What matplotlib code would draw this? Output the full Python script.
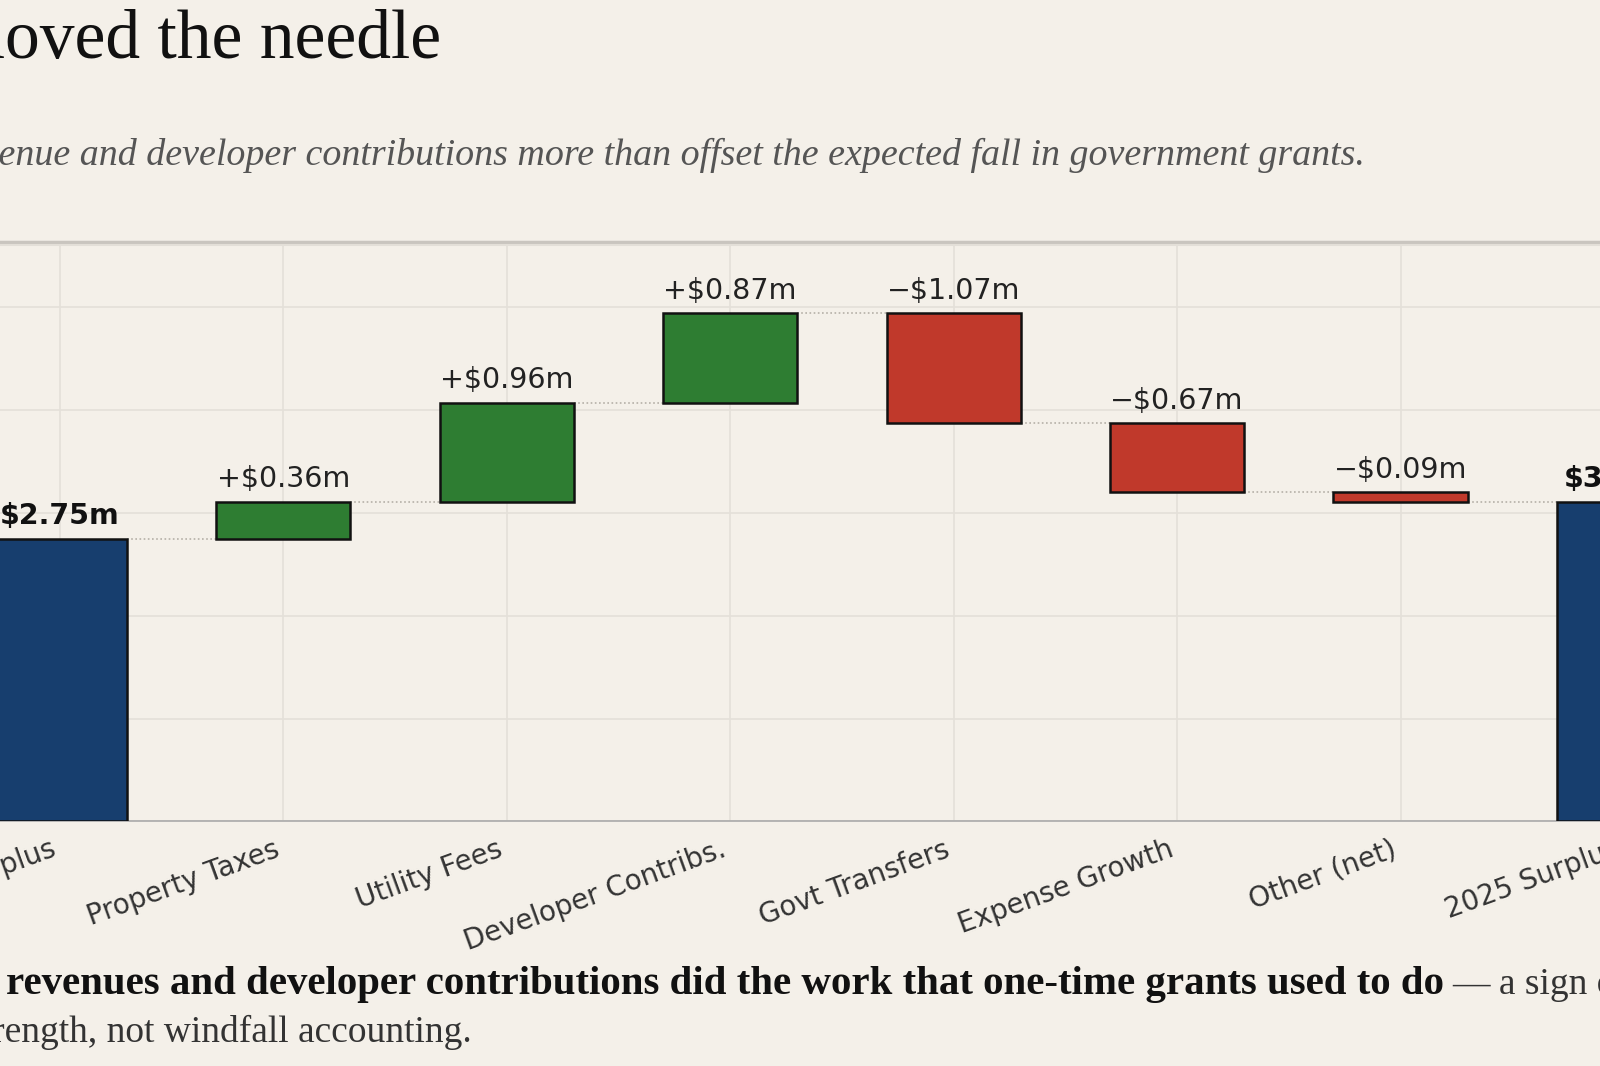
import numpy as np
import matplotlib
matplotlib.use("Agg")
import matplotlib.pyplot as plt
from matplotlib.lines import Line2D

# waterfall data ($m)
categories = ["2024 Surplus", "Property Taxes", "Utility Fees", "Developer Contribs.",
              "Govt Transfers", "Expense Growth", "Other (net)", "2025 Surplus"]
start_value = 2.75
changes = [0.36, 0.96, 0.87, -1.07, -0.67, -0.09]

BG = "#f4f0e9"
NAVY = "#173e6e"
GREEN = "#2e7d32"
RED = "#c0392b"

end_value = start_value + sum(changes)

# layout measured on a 1568 x 1045 view of the reference
VW, VH = 1568.0, 1044.7
def fx(v):
    return v / VW
def fy(v):
    return 1 - v / VH

fig = plt.figure(figsize=(16, 10.66), dpi=100, facecolor=BG)

# axes deliberately wider than the figure (cropped view)
unit_x = 219.0
unit_y = 100.8
xlo, xhi = -0.6, 7.6
ylo, yhi = 0.0, (805 - 237) / unit_y
ax = fig.add_axes([fx(58.5 + xlo * unit_x), fy(805), (xhi - xlo) * unit_x / VW,
                   (805 - 237) / VH])
ax.set_facecolor(BG)
ax.set_xlim(xlo, xhi)
ax.set_ylim(ylo, yhi)

x = np.arange(len(categories))
w = 0.6

bottoms = [0]
heights = [start_value]
colors = [NAVY]
levels = [start_value]
cum = start_value
for c in changes:
    bottoms.append(min(cum, cum + c))
    heights.append(abs(c))
    colors.append(GREEN if c > 0 else RED)
    cum += c
    levels.append(cum)
bottoms.append(0)
heights.append(end_value)
colors.append(NAVY)

ax.bar(x, heights, bottom=bottoms, width=w, color=colors, edgecolor="#111111",
       linewidth=1.8, zorder=3)

# connectors
for i in range(len(categories) - 1):
    ax.plot([x[i] + w / 2, x[i + 1] - w / 2], [levels[i], levels[i]],
            color="#b5b0a8", linestyle=(0, (1, 1.5)), linewidth=1.2, zorder=2)

# value labels
def fmt(v, signed):
    if not signed:
        return f"${v:.2f}m"
    return ("+" if v > 0 else "\u2212") + f"${abs(v):.2f}m"

LBL = 20.5
ax.annotate(fmt(start_value, False), (x[0], start_value), xytext=(0, 6),
            textcoords="offset points", ha="center", va="bottom",
            fontsize=LBL, fontweight="bold", color="#111111")
for i, c in enumerate(changes, start=1):
    top = bottoms[i] + heights[i]
    ax.annotate(fmt(c, True), (x[i], top), xytext=(0, 6),
                textcoords="offset points", ha="center", va="bottom",
                fontsize=LBL, color="#222222")
ax.annotate(fmt(end_value, False), (x[-1], end_value), xytext=(0, 6),
            textcoords="offset points", ha="center", va="bottom",
            fontsize=LBL, fontweight="bold", color="#111111")

ax.set_xticks(x)
ax.set_xticklabels(categories, rotation=20, ha="right", fontsize=20, color="#333333")
ax.set_yticks(np.arange(0, 6))
ax.tick_params(length=0, pad=10)
ax.set_yticklabels([])
ax.grid(True, color="#e4e0d9", linewidth=1.2, zorder=0)
ax.set_axisbelow(True)
for s in ["top", "right", "left"]:
    ax.spines[s].set_visible(False)
ax.spines["bottom"].set_color("#aaaaaa")
ax.spines["bottom"].set_linewidth(1.2)

# header rule
fig.add_artist(Line2D([0, 1], [fy(237)] * 2, color="#c9c5bf", linewidth=2.5))
fig.add_artist(Line2D([0, 1], [fy(240)] * 2, color="#e3dfd8", linewidth=1.5))

# title and subtitle (cropped on the left)
fig.text(fx(432), fy(40), "What moved the needle", ha="right", va="center",
         fontsize=50, family="Liberation Serif", color="#111111")
fig.text(fx(1338), fy(152),
         "Recurring tax revenue and developer contributions more than offset the expected fall in government grants.",
         ha="right", va="center", fontsize=27.4, family="Liberation Serif",
         style="italic", color="#555555")

# footnote
fig.text(fx(1415), fy(965),
         "Recurring revenues and developer contributions did the work that one-time grants used to do",
         ha="right", va="center", fontsize=29.4, family="Liberation Serif",
         fontweight="bold", color="#111111")
fig.text(fx(1423), fy(965), "\u2014 a sign of structural strength,",
         ha="left", va="center", fontsize=27, family="Liberation Serif", color="#333333")
fig.text(fx(462), fy(1012), "structural strength, not windfall accounting.",
         ha="right", va="center", fontsize=27, family="Liberation Serif", color="#333333")

fig.savefig("out.png", dpi=100, facecolor=BG)
